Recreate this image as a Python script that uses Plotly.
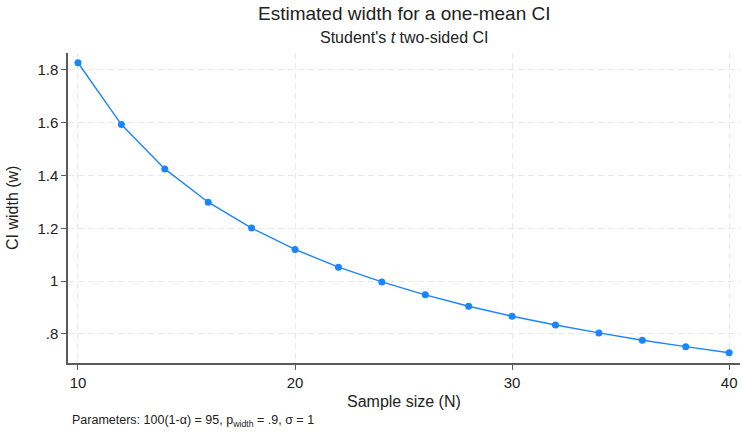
import plotly.graph_objects as go

sample_size = [10, 12, 14, 16, 18, 20, 22, 24, 26, 28, 30, 32, 34, 36, 38, 40]
ci_width = [1.827, 1.593, 1.425, 1.299, 1.201, 1.120, 1.053, 0.997, 0.948, 0.905,
            0.867, 0.834, 0.804, 0.776, 0.752, 0.729]
x_ticks = [10, 20, 30, 40]
y_ticks = [0.8, 1.0, 1.2, 1.4, 1.6, 1.8]
y_tick_labels = [".8", "1", "1.2", "1.4", "1.6", "1.8"]

BLUE = "#1a85ff"
FONT = "Liberation Sans, Arial, sans-serif"

fig = go.Figure()
fig.add_trace(go.Scatter(
    x=sample_size, y=ci_width, mode="lines+markers",
    line=dict(color=BLUE, width=1.4),
    marker=dict(color=BLUE, size=7),
    showlegend=False,
))

ax_common = dict(
    showline=True, linecolor="#5a5a5a", linewidth=1.5,
    ticks="outside", ticklen=5, tickcolor="#5a5a5a", tickwidth=1.3,
    showgrid=True, gridcolor="#e8e8e8", griddash="6px,4px", gridwidth=1,
    zeroline=False, mirror=False,
    tickfont=dict(family=FONT, size=15, color="#222"),
)

fig.update_layout(
    width=741, height=432,
    margin=dict(l=68, r=1, t=53, b=69, autoexpand=False),
    paper_bgcolor="white", plot_bgcolor="white",
    font=dict(family=FONT, color="#222"),
    xaxis=dict(range=[9.54, 40.5], tickvals=x_ticks, **ax_common),
    yaxis=dict(range=[0.690, 1.864], tickvals=y_ticks, ticktext=y_tick_labels, **ax_common),
    annotations=[
        dict(text="Estimated width for a one-mean CI", xref="paper", yref="paper",
             x=0.5, y=1.129, xanchor="center", yanchor="middle", showarrow=False,
             font=dict(size=19, family=FONT, color="#222")),
        dict(text="Student's <i>t</i> two-sided CI", xref="paper", yref="paper",
             x=0.5, y=1.0516, xanchor="center", yanchor="middle", showarrow=False,
             font=dict(size=16, family=FONT, color="#222")),
        dict(text="Sample size (N)", xref="paper", yref="paper",
             x=0.5, y=-0.1226, xanchor="center", yanchor="middle", showarrow=False,
             font=dict(size=16, family=FONT, color="#222")),
        dict(text="CI width (w)", xref="paper", yref="paper", textangle=-90,
             x=-0.0833, y=0.5, xanchor="center", yanchor="middle", showarrow=False,
             font=dict(size=16, family=FONT, color="#222")),
        dict(text="Parameters: 100(1-α) = 95, p<sub>width</sub> = .9, σ = 1",
             xref="paper", yref="paper",
             x=0.003, y=-0.187, xanchor="left", yanchor="middle", showarrow=False,
             font=dict(size=12.5, family=FONT, color="#222")),
    ],
)

fig.write_html("out.html", config={"displayModeBar": False},
               post_script="document.body.style.margin='0px';")
